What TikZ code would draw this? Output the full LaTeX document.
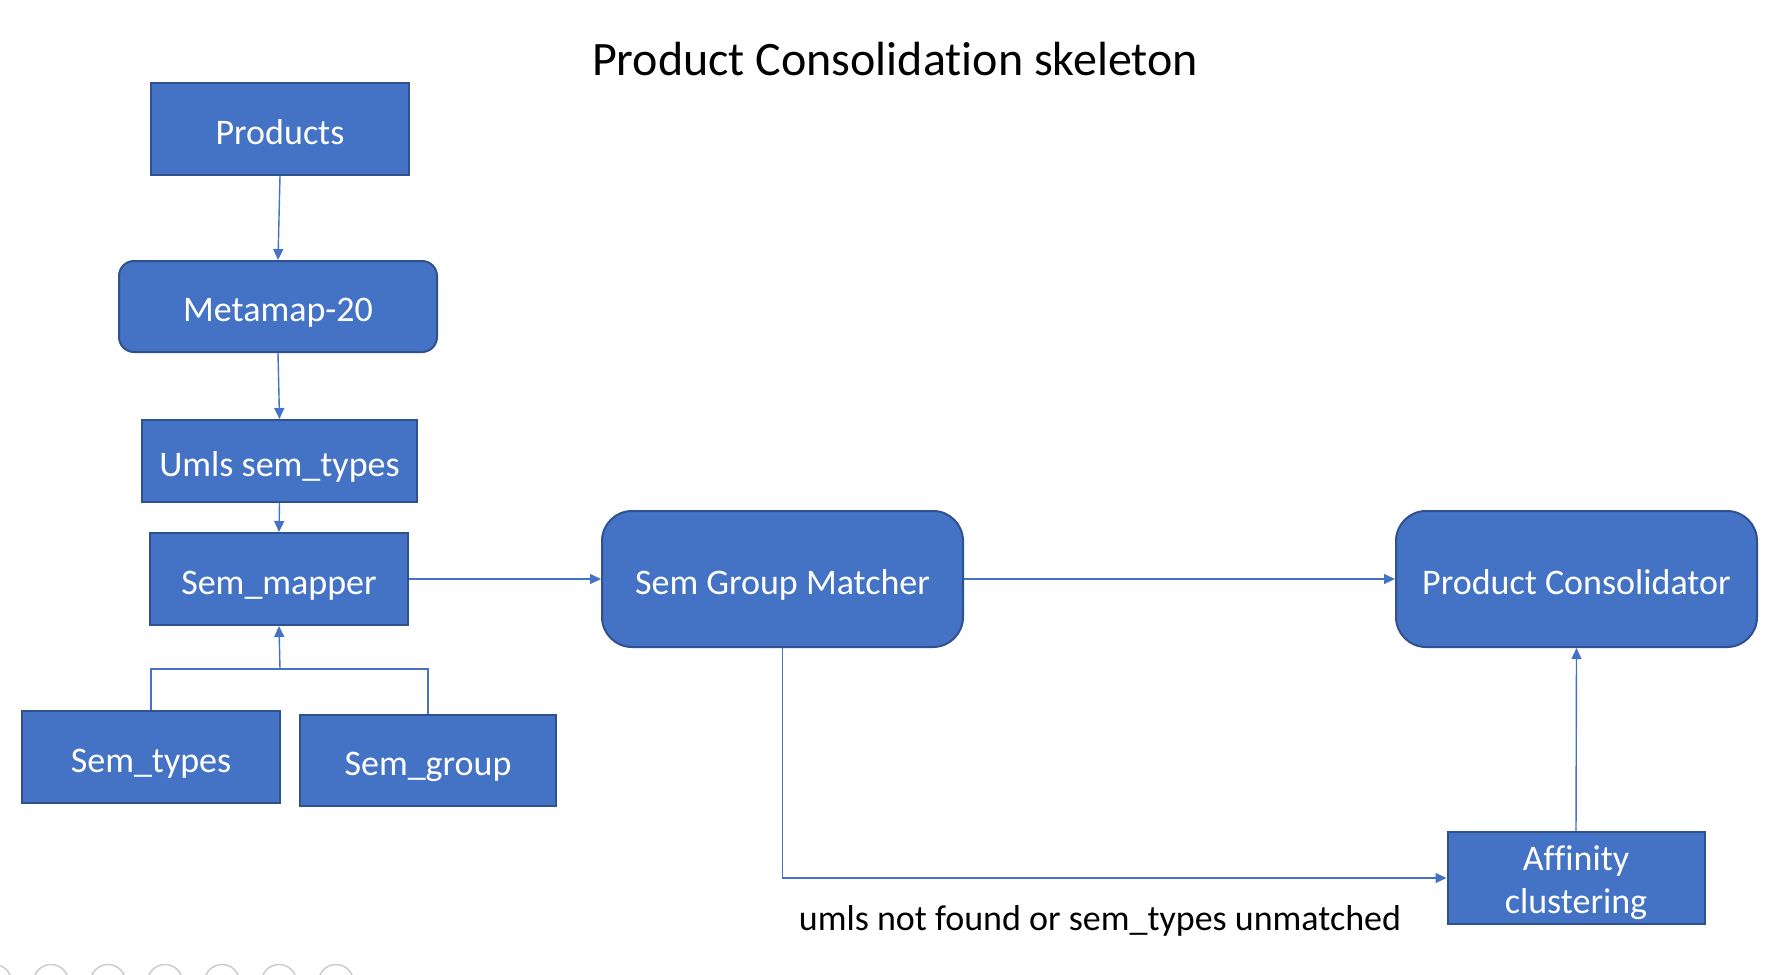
\documentclass[tikz,border=0pt]{standalone}
\usepackage{fontspec}
\setmainfont{Carlito}[Ligatures=NoCommon]
\usetikzlibrary{arrows.meta}
\definecolor{boxblue}{HTML}{4472C4}
\definecolor{edgeblue}{HTML}{2F528F}
\newcommand{\boxfont}{\fontsize{36}{43}\selectfont}

\begin{document}
\begin{tikzpicture}[x=1pt, y=-1pt,
		blk/.style={draw=edgeblue, line width=2pt, fill=boxblue, text=white, font=\boxfont, inner sep=0pt, align=center, text height=30pt, text depth=0pt},
		rblk/.style={blk, rounded corners=#1},
		rblk/.default=15pt,
		link/.style={boxblue, line width=1.4pt, -{Triangle[length=11pt,width=10pt]}}
	]
		\useasboundingbox (0,0) rectangle (1787,974);
		\fill[white] (0,0) rectangle (1787,974);
		\clip (0,0) rectangle (1787,974);

		% TITLE
		\node[font=\fontsize{48}{56}\selectfont, anchor=base] (title) at (895,75) {Product Consolidation skeleton};

		% LEFT COLUMN
		\node[blk, minimum width=258pt, minimum height=92pt] (prod) at (280,129) {Products};
		\node[rblk, minimum width=318pt, minimum height=91pt] (meta) at (278,306.5) {Metamap-20};
		\node[blk, minimum width=275pt, minimum height=82pt] (umls) at (279.5,461) {Umls sem\_types};
		\node[blk, minimum width=258pt, minimum height=92pt] (mapper) at (279,579) {Sem\_mapper};
		\node[blk, minimum width=258pt, minimum height=92pt] (stypes) at (151,757) {Sem\_types};
		\node[blk, minimum width=256pt, minimum height=91pt] (sgroup) at (428,760.5) {Sem\_group};

		% MATCHING AND CONSOLIDATION
		\node[rblk=30pt, minimum width=361pt, minimum height=136pt] (sgm) at (782.5,579) {Sem Group Matcher};
		\node[rblk=30pt, minimum width=361pt, minimum height=136pt] (pc) at (1576.5,579) {Product Consolidator};
		\node[blk, minimum width=257pt, minimum height=92pt, text height=78pt, text depth=8pt] (aff) at (1576,878) {Affinity\\clustering};
		\node[font=\fontsize{36}{43}\selectfont, anchor=base] (note) at (1100,930) {umls not found or sem\_types unmatched};

		% CONNECTORS
		\draw[link] (prod.south) -- (meta.north);
		\draw[link] (meta.south) -- (umls.north);
		\draw[link] (umls.south) -- (mapper.north);
		\coordinate (join) at (280,669);
		\draw[boxblue, line width=1.4pt] (stypes.north) |- (join) -| (sgroup.north);
		\draw[link] (join) -- (mapper.south);
		\draw[link] (mapper.east) -- (sgm.west);
		\draw[link] (sgm.east) -- (pc.west);
		\draw[link] (sgm.south) |- (aff.west);
		\draw[link] (aff.north) -- (pc.south);

		% SLIDE CONTROLS
		\draw[black!20, line width=1.5pt] (-6,982) circle (17.5) (51,982) circle (17.5) (108,982) circle (17.5) (165,982) circle (17.5) (222,982) circle (17.5) (279,982) circle (17.5) (336,982) circle (17.5);
	\end{tikzpicture}
\end{document}
